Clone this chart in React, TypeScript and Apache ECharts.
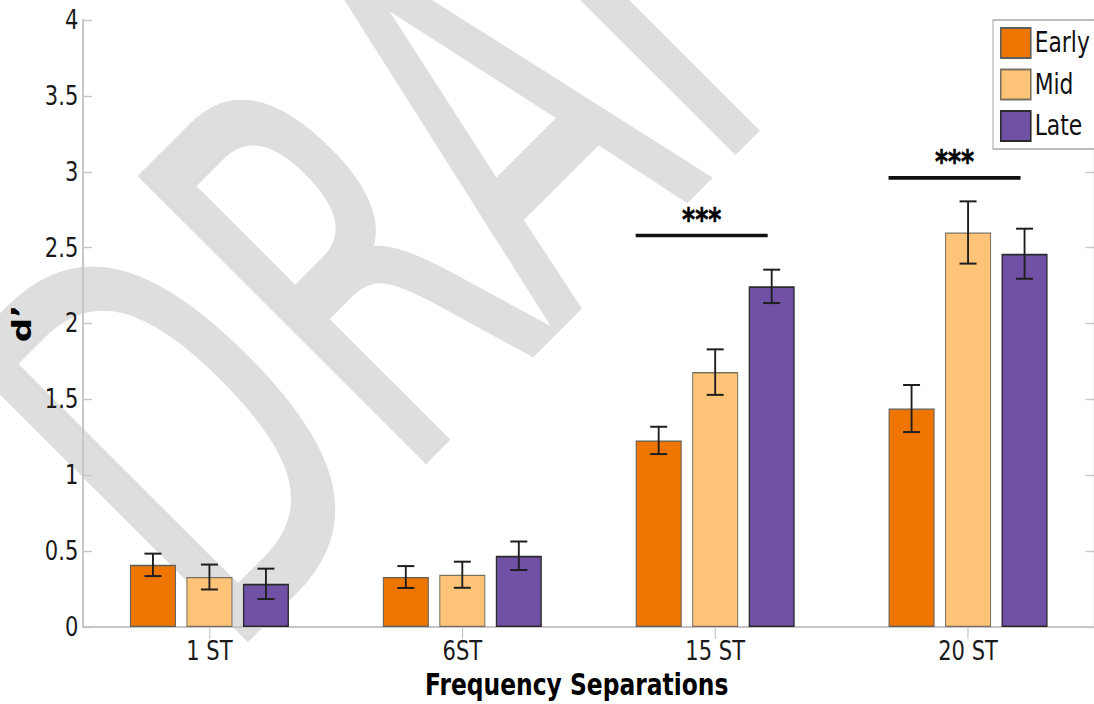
import React, { useEffect, useRef } from "react";
import * as echarts from "echarts";

// ---- data ----
const categories = ["1 ST", "6ST", "15 ST", "20 ST"];
const seriesNames = ["Early", "Mid", "Late"];
const earlyValues = [0.41, 0.33, 1.23, 1.44];
const midValues = [0.33, 0.345, 1.68, 2.6];
const lateValues = [0.285, 0.47, 2.245, 2.46];
const earlyErrors = [0.074, 0.072, 0.09, 0.155];
const midErrors = [0.082, 0.086, 0.15, 0.205];
const lateErrors = [0.1, 0.094, 0.11, 0.165];
const yMin = 0;
const yMax = 4;
const yInterval = 0.5;
const sigCategories = ["15 ST", "20 ST"];
const sigLevels = [2.58, 2.96];
const sigLabels = ["***", "***"];
const watermarkText = "DRAFT";

// ---- styling ----
const SQ = 0.78; // horizontal squeeze of the whole figure
const FONT = "DejaVu Sans";
const colors = ["#EE7600", "#FFC477", "#7051A6"];
const borders = ["#5e5e5e", "#7a7060", "#2a2a2a"];
const borderWidths = [1.3, 1.3, 1.7];
const BAR_W = 46 / SQ;
const BAR_GAP = 10.5 / SQ;
const STEP = BAR_W + BAR_GAP;
const CAP = 17 / SQ;
const AXIS_GRAY = "#c6c6c6";

const valuesList = [earlyValues, midValues, lateValues];
const errorsList = [earlyErrors, midErrors, lateErrors];

function errorSeries(values: number[], errors: number[], idx: number) {
  return {
    type: "custom",
    name: "err-" + seriesNames[idx],
    data: values.map((v, i) => [i, v, errors[i]]),
    encode: { x: 0, y: 1 },
    silent: true,
    clip: false,
    z: 5,
    renderItem: (params: any, api: any) => {
      const ci = api.value(0);
      const v = api.value(1);
      const e = api.value(2);
      const top = api.coord([ci, v + e]);
      const bot = api.coord([ci, v - e]);
      const x = top[0] + (idx - 1) * STEP;
      const h = CAP / 2;
      const st = { stroke: "#1e1e1e", lineWidth: 2.4 };
      const sh = { stroke: "#1e1e1e", lineWidth: 2 };
      return {
        type: "group",
        children: [
          { type: "line", shape: { x1: x, y1: top[1], x2: x, y2: bot[1] }, style: st },
          { type: "line", shape: { x1: x - h, y1: top[1], x2: x + h, y2: top[1] }, style: sh },
          { type: "line", shape: { x1: x - h, y1: bot[1], x2: x + h, y2: bot[1] }, style: sh },
        ],
      };
    },
  };
}

const sigSeries = {
  type: "custom",
  name: "significance",
  data: sigCategories.map((c, i) => [categories.indexOf(c), sigLevels[i], i]),
  encode: { x: 0, y: 1 },
  silent: true,
  clip: false,
  z: 6,
  renderItem: (params: any, api: any) => {
    const ci = api.value(0);
    const lvl = api.value(1);
    const li = api.value(2);
    const p = api.coord([ci, lvl]);
    const x1 = p[0] - STEP - BAR_W / 2;
    const x2 = p[0] + STEP - 4 / SQ;
    return {
      type: "group",
      children: [
        {
          type: "line",
          shape: { x1, y1: p[1], x2, y2: p[1] },
          style: { stroke: "#111", lineWidth: 3.6 },
        },
        {
          type: "text",
          x: (x1 + x2) / 2,
          y: p[1] - 17,
          style: {
            text: sigLabels[li],
            fill: "#000",
            stroke: "#000",
            lineWidth: 0.6,
            font: `bold 32px ${FONT}`,
            align: "center",
            verticalAlign: "middle",
          },
        },
      ],
    };
  },
};

export default function App() {
  const ref = useRef<HTMLDivElement>(null);

  useEffect(() => {
    if (!ref.current) return;
    const chart = echarts.init(ref.current, undefined, { renderer: "svg" });
    const axisLabelStyle = { fontFamily: FONT, fontSize: 27, color: "#1a1a1a" };

    const option: any = {
      animation: false,
      backgroundColor: "#ffffff",
      textStyle: { fontFamily: FONT },
      graphic: [
        {
          type: "group",
          x: 89 / SQ,
          y: 527,
          scaleX: 1 / SQ,
          scaleY: 1,
          z: -10,
          silent: true,
          children: [
            {
              type: "text",
              rotation: Math.PI / 4,
              scaleX: 0.59,
              scaleY: 1,
              z: -10,
              style: {
                text: watermarkText,
                font: `554px ${FONT}`,
                fill: "#dedede",
                stroke: "#dedede",
                lineWidth: 4,
                lineJoin: "round",
                align: "left",
                verticalAlign: "middle",
              },
            },
          ],
        },
      ],
      grid: { left: 106.4, right: 19.8, top: 20, bottom: 75, containLabel: false },
      legend: {
        data: seriesNames,
        orient: "vertical",
        align: "left",
        left: 993 / SQ,
        top: 20,
        itemWidth: 30 / SQ,
        itemHeight: 30,
        itemGap: 9.5,
        icon: "rect",
        padding: [7, 40, 7, 7 / SQ],
        backgroundColor: "#ffffff",
        borderColor: "#a8a8a8",
        borderWidth: 1.3,
        textStyle: { fontFamily: FONT, fontSize: 28, color: "#111" },
      },
      xAxis: [
        {
          type: "category",
          data: categories,
          position: "bottom",
          axisLine: { show: true, lineStyle: { color: AXIS_GRAY, width: 2 } },
          axisTick: { show: false },
          axisLabel: { ...axisLabelStyle, margin: 10 },
          name: "Frequency Separations",
          nameLocation: "middle",
          nameGap: 54,
          nameTextStyle: {
            fontFamily: FONT,
            fontSize: 30,
            fontWeight: "bold",
            color: "#000",
            align: "center",
            verticalAlign: "middle",
            padding: [0, 31, 0, 0],
          },
          splitLine: { show: false },
        },
        {
          type: "category",
          data: categories,
          position: "top",
          axisLine: { show: true, lineStyle: { color: AXIS_GRAY, width: 2 } },
          axisTick: {
            show: true,
            inside: true,
            alignWithLabel: true,
            length: 12,
            lineStyle: { color: AXIS_GRAY, width: 1.6 },
          },
          axisLabel: { show: false },
          splitLine: { show: false },
        },
      ],
      yAxis: [
        {
          type: "value",
          min: yMin,
          max: yMax,
          interval: yInterval,
          position: "left",
          axisLine: { show: true, lineStyle: { color: AXIS_GRAY, width: 2.5 } },
          axisTick: { show: true, inside: true, length: 11.5, lineStyle: { color: AXIS_GRAY, width: 1.4 } },
          axisLabel: { ...axisLabelStyle, margin: 6 },
          splitLine: { show: false },
          name: "d’",
          nameLocation: "middle",
          nameRotate: 90,
          nameGap: 78,
          nameTextStyle: {
            fontFamily: FONT,
            fontSize: 34,
            fontWeight: "bold",
            color: "#000",
            align: "center",
            verticalAlign: "middle",
          },
        },
        {
          type: "value",
          min: yMin,
          max: yMax,
          interval: yInterval,
          position: "right",
          axisLine: { show: true, lineStyle: { color: AXIS_GRAY, width: 2.5 } },
          axisTick: { show: true, inside: true, length: 11.5, lineStyle: { color: AXIS_GRAY, width: 1.4 } },
          axisLabel: { show: false },
          splitLine: { show: false },
        },
      ],
      series: [
        ...seriesNames.map((name, i) => ({
          type: "bar",
          name,
          data: valuesList[i],
          barWidth: BAR_W,
          barGap: `${(BAR_GAP / BAR_W) * 100}%`,
          itemStyle: { color: colors[i], borderColor: borders[i], borderWidth: borderWidths[i] },
          silent: true,
          z: 2,
        })),
        ...seriesNames.map((_, i) => errorSeries(valuesList[i], errorsList[i], i)),
        sigSeries,
      ],
    };

    chart.setOption(option);
    return () => chart.dispose();
  }, []);

  return (
    <div
      style={{
        position: "fixed",
        left: 0,
        top: 0,
        width: 1094,
        height: 704,
        overflow: "hidden",
        background: "#fff",
      }}
    >
      <div
        ref={ref}
        style={{
          width: 1110 / SQ,
          height: 704,
          transform: `scaleX(${SQ})`,
          transformOrigin: "0 0",
        }}
      />
    </div>
  );
}
